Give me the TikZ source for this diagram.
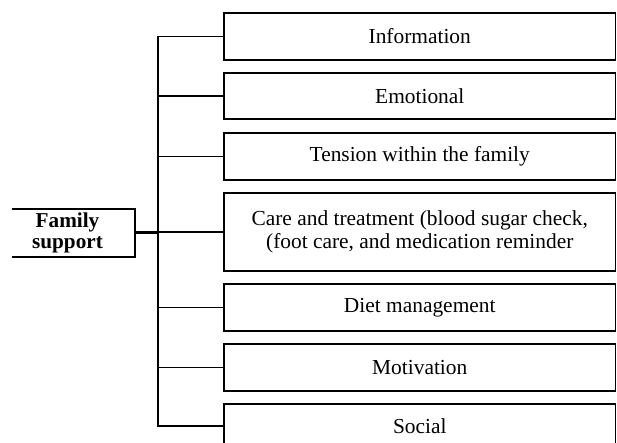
\documentclass[tikz,border=0pt]{standalone}
\usepackage{fontspec}
\setmainfont{Liberation Serif}
\begin{document}
\begin{tikzpicture}[x=1pt,y=-1pt,
  item/.style={draw, line width=1.8pt, minimum width=391.5pt, outer sep=0pt,
    inner sep=0pt, align=center, font=\fontsize{21.4}{22.5}\selectfont, anchor=north west},
  famnode/.style={inner sep=0pt, align=center, minimum width=135pt, minimum height=48pt,
    font=\fontsize{21.2}{21}\selectfont\bfseries},
  link/.style={line width=1.7pt},
  stub/.style={line width=3pt}]
\useasboundingbox (0,0) rectangle (617,443);
\node[item, minimum height=47pt] (b1) at (224,13) {Information};
\node[item, minimum height=46pt] (b2) at (224,73) {Emotional};
\node[item, minimum height=47pt] (b3) at (224,133) {Tension within the family};
\node[item, minimum height=78pt] (b4) at (224,193) {Care and treatment (blood sugar check,\\(foot care, and medication reminder};
\node[item, minimum height=47pt] (b5) at (224,284) {Diet management};
\node[item, minimum height=47pt] (b6) at (224,344) {Motivation};
\node[item, minimum height=44pt] (b7) at (224,404) {Social};
\node[famnode] (fam) at (67.5,233) {Family\\support};
\draw[line width=1.8pt] ([xshift=12pt]fam.north west) -- (fam.north east) -- (fam.south east) -- ([xshift=12pt]fam.south west);
\coordinate (tx) at (158,0);
\draw[link] (b1.west) -- (b1.west -| tx) -- (b7.west -| tx) -- (b7.west);
\foreach \b in {b2,b3,b4,b5,b6} \draw[link] (\b.west) -- (\b.west -| tx);
\draw[stub] (fam.east) -- (fam.east -| tx);
\end{tikzpicture}
\end{document}
